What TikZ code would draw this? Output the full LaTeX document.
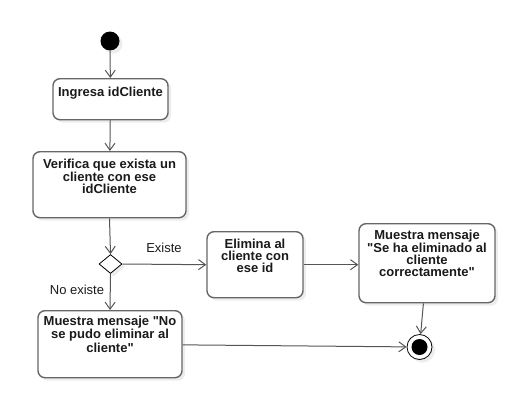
\documentclass[tikz,border=0pt]{standalone}
\usepackage{fontspec}
\setmainfont{Liberation Sans}
\usetikzlibrary{arrows.meta,shapes.geometric,shadows}

\definecolor{borde}{HTML}{666666}
\definecolor{linea}{HTML}{555555}
\definecolor{texto}{HTML}{1A1A1A}

\tikzset{
  sombra/.style={drop shadow={shadow xshift=3pt,shadow yshift=-3pt,fill=black!7,opacity=1}},
  actividad/.style={draw=borde,line width=1.4pt,rounded corners=7pt,fill=white,sombra,
    anchor=north,align=center,inner ysep=0pt,inner xsep=2pt,
    text=texto,font=\bfseries\fontsize{13}{11.7}\selectfont},
  decision/.style={diamond,draw=black,line width=0.8pt,fill=white,sombra,
    minimum width=23pt,minimum height=19pt,inner sep=0pt},
  flujo/.style={draw=linea,line width=1pt,-{Straight Barb[length=7pt,width=10pt]}},
  etiqueta/.style={text=texto,font=\fontsize{13}{14}\selectfont,inner sep=0pt}
}

\begin{document}
\begin{tikzpicture}[x=1pt,y=-1pt]

%% - Frame
%% - --------------------------------------
\useasboundingbox (0,0) rectangle (529,415);

%% - Inicio y fin
%% - --------------------------------------
\node[circle,fill=black,minimum size=19pt,inner sep=0pt,sombra] (inicio) at (110,41) {};
\node[circle,draw=black,line width=0.8pt,fill=white,minimum size=25pt,inner sep=0pt,sombra] (fin) at (419.5,347) {};
\node[circle,fill=black,minimum size=16pt,inner sep=0pt] (finPunto) at (fin) {};

%% - Actividades
%% - --------------------------------------
\node[actividad,minimum width=115pt,text height=18pt,text depth=23pt] (ingresa) at (110.5,78) {Ingresa idCliente};
\node[actividad,minimum width=153pt,text height=41.4pt,text depth=24.6pt] (verifica) at (109.5,151) {Verifica que exista un\\cliente con ese\\idCliente};
\node[decision] (existe) at (110.5,264) {};
\node[actividad,minimum width=96pt,text height=40.4pt,text depth=25.6pt] (elimina) at (255,231) {Elimina al\\cliente con\\ese id};
\node[actividad,minimum width=136pt,text height=52.6pt,text depth=26.4pt] (muestraSi) at (427,223) {Muestra mensaje\\\textquotedbl Se ha eliminado al\\cliente\\correctamente\textquotedbl};
\node[actividad,minimum width=144pt,text height=41.4pt,text depth=25.6pt] (muestraNo) at (110,310) {Muestra mensaje \textquotedbl No\\se pudo eliminar al\\cliente\textquotedbl};

%% - Flujos
%% - --------------------------------------
\draw[flujo] (inicio) -- (ingresa);
\draw[flujo] (ingresa) -- (verifica);
\draw[flujo] (verifica.south) -- (existe.north);
\draw[flujo] (existe.east) -- (elimina.west);
\draw[flujo] (elimina.east) -- (elimina.east -| muestraSi.west);
\draw[flujo] (existe.south) -- (muestraNo.north);
\draw[flujo] (muestraSi) -- (fin);
\draw[flujo] (muestraNo) -- (fin);

%% - Etiquetas
%% - --------------------------------------
\node[etiqueta] (lblExiste) at (164,248) {Existe};
\node[etiqueta] (lblNoExiste) at (77,290) {No existe};

\end{tikzpicture}
\end{document}
